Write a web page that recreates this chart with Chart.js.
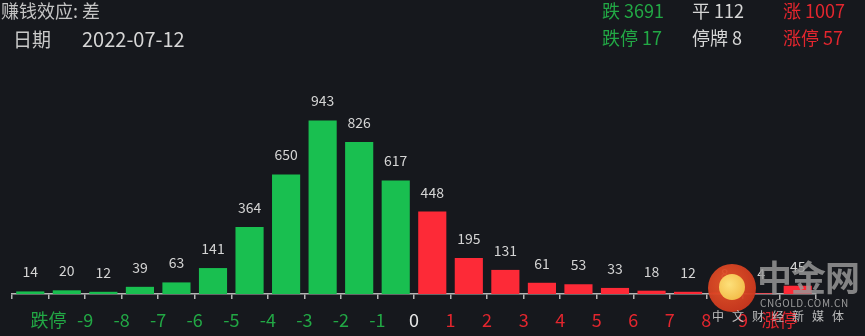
<!DOCTYPE html>
<html>
<head>
<meta charset="utf-8">
<script src="https://cdn.jsdelivr.net/npm/chart.js@4/dist/chart.umd.min.js"></script>
<style>
html,body{margin:0;padding:0;background:#16181d;overflow:hidden;}
#wrap{position:relative;width:865px;height:336px;font-family:"Noto Sans CJK SC","Noto Sans",sans-serif;}
canvas{position:absolute;left:0;top:0;}
.t{position:absolute;white-space:nowrap;font-size:18px;line-height:18px;}
.wm{position:absolute;white-space:nowrap;}
</style>
</head>
<body>
<div id="wrap">
<canvas id="c" width="865" height="336"></canvas>
<div class="t" style="left:1px;top:1px;color:#c4c4c4;">赚钱效应: 差</div>
<div class="t" style="left:13px;top:29px;color:#c9c9c9;font-size:19px;line-height:19px;">日期</div>
<div class="t" style="left:82px;top:29px;color:#d6d6d6;font-size:20px;line-height:20px;">2022-07-12</div>
<div class="t" style="left:602px;top:1px;color:#22a845;">跌 3691</div>
<div class="t" style="left:692px;top:1px;color:#d6d6d6;">平 112</div>
<div class="t" style="left:783px;top:1px;color:#e3262e;">涨 1007</div>
<div class="t" style="left:602px;top:28px;color:#22a845;">跌停 17</div>
<div class="t" style="left:692px;top:28px;color:#d6d6d6;">停牌 8</div>
<div class="t" style="left:783px;top:28px;color:#e3262e;">涨停 57</div>
<!-- watermark -->
<div class="wm" style="left:708px;top:264px;width:48px;height:48px;border-radius:50%;background:radial-gradient(circle at 40% 40%,#e8572a,#c42d1a);opacity:0.95;"></div>
<div class="wm" style="left:719px;top:274px;width:26px;height:26px;border-radius:50%;background:radial-gradient(circle at 40% 40%,#fde07a,#f0b23a);"></div>
<div class="wm" style="left:757px;top:254px;font-size:35px;line-height:44px;font-weight:bold;color:rgba(150,150,150,0.85);letter-spacing:-1px;">中金网</div>
<div class="wm" style="left:760px;top:297px;font-size:10px;line-height:12px;color:rgba(170,170,170,0.9);letter-spacing:0.6px;">CNGOLD.COM.CN</div>
<div class="wm" style="left:712px;top:309px;font-size:12px;line-height:14px;color:rgba(205,205,205,0.9);letter-spacing:8px;">中文财经新媒体</div>
</div>
<script>
const categories = ['跌停','-9','-8','-7','-6','-5','-4','-3','-2','-1','0','1','2','3','4','5','6','7','8','9','涨停',''];
const values = [14,20,12,39,63,141,364,650,943,826,617,448,195,131,61,53,33,18,12,8,4,45];
const downColor = '#19bf50';
const upColor = '#fd2a37';
const barColors = values.map((v,i)=> i<=10 ? downColor : upColor);
const labelColors = categories.map((c,i)=> i<10 ? '#22a845' : (i===10 ? '#e6e6e6' : '#e3262e'));

const valueLabels = {
  id:'valueLabels',
  afterDatasetsDraw(chart){
    const ctx = chart.ctx;
    const meta = chart.getDatasetMeta(0);
    ctx.save();
    ctx.font = '14px "Noto Sans CJK SC","Noto Sans",sans-serif';
    ctx.fillStyle = '#d4d4d4';
    ctx.textAlign = 'center';
    ctx.textBaseline = 'alphabetic';
    meta.data.forEach((bar,i)=>{
      ctx.fillText(String(values[i]), bar.x, bar.y - 14);
    });
    ctx.restore();
  }
};

new Chart(document.getElementById('c'), {
  type:'bar',
  data:{labels:categories, datasets:[{data:values, backgroundColor:barColors, borderWidth:0, barPercentage:0.77, categoryPercentage:1.0}]},
  options:{
    responsive:false, animation:false,
    layout:{padding:{left:12,right:49,top:110,bottom:0}},
    plugins:{legend:{display:false},tooltip:{enabled:false}},
    scales:{
      y:{display:false,min:0,max:1000},
      x:{
        offset:true,
        afterFit(s){ s.height = 42; },
        border:{display:true,color:'#b4b4b4',width:1.5},
        grid:{display:true,offset:true,drawOnChartArea:false,drawTicks:true,tickLength:5,color:'#b4b4b4',lineWidth:1.5},
        ticks:{
          autoSkip:false,maxRotation:0,minRotation:0,padding:10,
          labelOffset:18.27,
          font:{size:18,family:'"Noto Sans CJK SC","Noto Sans",sans-serif'},
          color:(c)=>labelColors[c.index] || '#e6e6e6'
        }
      }
    }
  },
  plugins:[valueLabels]
});
</script>
</body>
</html>
